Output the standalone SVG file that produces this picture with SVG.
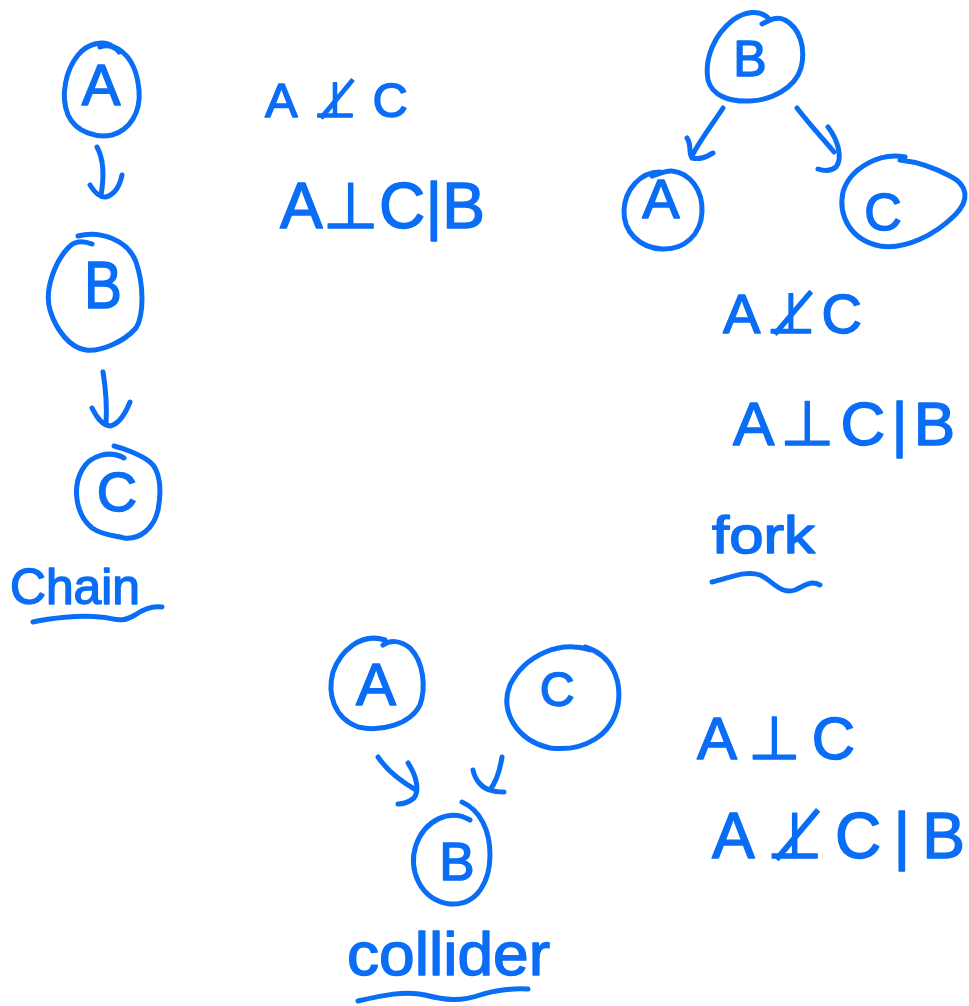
<svg xmlns="http://www.w3.org/2000/svg" width="969" height="1006" viewBox="0 0 969 1006">
  <style>
    .ink { fill: none; stroke: #0a6df6; stroke-width: 5; stroke-linecap: round; stroke-linejoin: round; }
    .lbl { fill: #0a6df6; stroke: #0a6df6; stroke-width: 1.5; stroke-linejoin: round; font-family: "Liberation Sans", "DejaVu Sans", sans-serif; }
    .sym { font-family: "DejaVu Sans", "Liberation Sans", sans-serif; }
    .mid { text-anchor: middle; }
  </style>
  <rect width="969" height="1006" fill="#ffffff"/>

  <!-- chain: A -> B -> C -->
  <g id="chain-A">
    <path class="ink" d="M 112 46 C 104 40 88 43 78 55 C 66 70 60 95 68 115 C 76 133 98 138 112 135 C 130 130 141 112 139 90 C 137 68 128 52 112 46 M 100 47 C 108 44 116 47 119 52"/>
    <text class="lbl mid" x="101" y="105" font-size="58">A</text>
  </g>
  <g id="chain-B">
    <path class="ink" d="M 78 236 C 100 230 128 240 136 262 C 144 285 144 315 136 328 C 124 342 100 352 86 350 C 70 348 56 330 50 310 C 44 290 55 262 68 248 C 74 241 82 240 92 244"/>
    <text class="lbl mid" x="103" y="308" font-size="66" textLength="38" lengthAdjust="spacingAndGlyphs">B</text>
  </g>
  <g id="chain-C">
    <path class="ink" d="M 124 458 C 110 450 90 455 82 470 C 72 488 76 515 92 528 C 104 536 118 536 124 538 C 140 540 154 528 158 510 C 162 490 160 470 150 462 C 140 454 122 448 114 446"/>
    <text class="lbl mid" x="117" y="511" font-size="56">C</text>
  </g>
  <g id="chain-label">
    <text class="lbl" x="10" y="604" font-size="50" textLength="130" lengthAdjust="spacingAndGlyphs">Chain</text>
    <path class="ink" d="M 33 622 C 50 618 80 615 100 617 C 115 618 120 624 135 615 C 145 608 155 606 162 607"/>
  </g>
  <g id="chain-facts">
    <text class="lbl" x="265" y="117" font-size="49" textLength="143" lengthAdjust="spacing">A<tspan class="sym">⊥̸</tspan>C</text>
    <text class="lbl" x="280" y="228" font-size="64" textLength="205" lengthAdjust="spacing">A<tspan class="sym">⊥</tspan>C|B</text>
  </g>

  <!-- fork: A <- B -> C -->
  <g id="fork-B">
    <path class="ink" d="M 770 20 C 760 8 744 12 733 20 C 715 34 704 58 708 80 C 712 96 730 102 750 101 C 772 100 795 88 801 68 C 806 48 800 28 785 20 C 776 16 770 20 762 24"/>
    <text class="lbl mid" x="750" y="76" font-size="50">B</text>
  </g>
  <g id="fork-A">
    <path class="ink" d="M 660 172 C 640 172 625 190 624 210 C 623 232 640 248 662 249 C 684 250 701 235 702 212 C 703 190 690 173 672 171 C 666 170 660 174 652 176"/>
    <text class="lbl mid" x="661" y="218" font-size="56">A</text>
  </g>
  <g id="fork-C">
    <path class="ink" d="M 905 157 C 880 152 850 168 843 192 C 838 215 850 240 880 246 C 905 250 935 235 955 215 C 970 200 968 185 950 176 C 935 168 918 162 900 160"/>
    <text class="lbl mid" x="883" y="230" font-size="52">C</text>
  </g>
  <g id="fork-label">
    <text class="lbl" x="712" y="553" font-size="52" textLength="103" lengthAdjust="spacingAndGlyphs">fork</text>
    <path class="ink" d="M 712 582 C 730 578 745 570 760 575 C 772 580 780 595 795 590 C 805 586 810 580 820 585"/>
  </g>
  <g id="fork-facts">
    <text class="lbl" x="723" y="333" font-size="56" textLength="139" lengthAdjust="spacing">A<tspan class="sym">⊥̸</tspan>C</text>
    <text class="lbl" x="733" y="445" font-size="62" textLength="222" lengthAdjust="spacing">A<tspan class="sym">⊥</tspan>C|B</text>
  </g>

  <!-- collider: A -> B <- C -->
  <g id="collider-A">
    <path class="ink" d="M 385 640 C 360 632 340 652 333 672 C 327 694 334 718 358 727 C 380 732 410 725 420 705 C 426 688 424 662 410 648 C 400 640 390 640 383 645"/>
    <text class="lbl mid" x="376" y="705" font-size="60">A</text>
  </g>
  <g id="collider-C">
    <path class="ink" d="M 590 650 C 560 640 525 655 510 685 C 500 710 515 740 550 748 C 585 752 612 735 618 705 C 622 680 612 655 585 647"/>
    <text class="lbl mid" x="557" y="706" font-size="48">C</text>
  </g>
  <g id="collider-B">
    <path class="ink" d="M 470 820 C 450 808 425 820 416 845 C 408 870 420 900 450 904 C 478 906 490 880 490 855 C 490 830 480 810 462 802"/>
    <text class="lbl mid" x="457" y="880" font-size="53">B</text>
  </g>
  <g id="collider-label">
    <text class="lbl" x="347" y="975" font-size="62" textLength="203" lengthAdjust="spacingAndGlyphs">collider</text>
    <path class="ink" d="M 358 1001 C 380 996 405 990 425 995 C 445 1000 460 1002 480 995 C 495 990 515 988 528 989"/>
  </g>
  <g id="collider-facts">
    <text class="lbl" x="697" y="759" font-size="60" textLength="158" lengthAdjust="spacing">A<tspan class="sym">⊥</tspan>C</text>
    <text class="lbl" x="712" y="858" font-size="64" textLength="253" lengthAdjust="spacing">A<tspan class="sym">⊥̸</tspan>C|B</text>
  </g>

  <!-- hand-drawn arrows -->
  <g id="connectors">
    <path class="ink" d="M 97 147 C 104 160 104 178 101 195 M 90 185 C 95 193 100 198 106 197 C 116 194 120 185 122 175"/>
    <path class="ink" d="M 103 372 C 106 390 107 408 106 425 M 92 408 C 97 418 102 425 110 426 C 120 424 126 412 130 402"/>
    <path class="ink" d="M 723 108 C 712 125 700 140 692 156 M 687 138 C 692 145 688 152 692 158 C 700 160 706 157 713 153"/>
    <path class="ink" d="M 797 108 C 810 125 824 140 834 152 M 828 127 C 838 140 843 158 836 167 C 830 172 824 171 818 169"/>
    <path class="ink" d="M 378 757 C 388 772 402 782 416 790 M 408 763 C 416 775 420 790 414 798 C 408 803 402 804 398 804"/>
    <path class="ink" d="M 502 757 C 500 770 496 782 490 790 M 473 770 C 475 780 482 788 490 790 C 495 792 500 792 504 792"/>
  </g>
</svg>
